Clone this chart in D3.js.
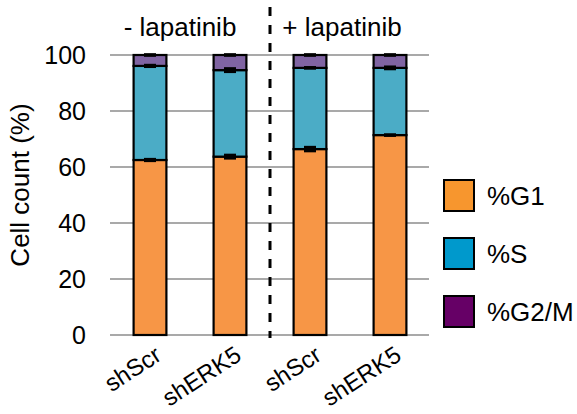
<!DOCTYPE html>
<html><head><meta charset="utf-8">
<script src="https://cdn.jsdelivr.net/npm/d3@7"></script>
<style>body{margin:0;background:#fff}text{font-family:"Liberation Sans",Arial,sans-serif;fill:#000}</style>
</head><body><svg id="c" width="577" height="414"></svg>
<script>
const categories = ["shScr","shERK5","shScr","shERK5"];
const groupLabels = ["- lapatinib","+ lapatinib"];
const seriesNames = ["%G1","%S","%G2/M"];
const g1 = [62.5, 63.7, 66.4, 71.4];
const s  = [33.6, 30.9, 29.0, 24.0];
const g2m = [3.9, 5.4, 4.6, 4.6];
const errG1 = [0.4, 0.7, 0.8, 0.3];
const errS = [0.4, 0.7, 0.3, 0.5];
const errTop = [0.3, 0.3, 0.3, 0.3];
const yTicks = [0,20,40,60,80,100];
const barColors = ["#f79646","#4bacc6","#8064a2"];
const legendColors = ["#f7962e","#0099cc","#660066"];

const svg = d3.select("#c");
const x = d3.scaleBand().domain(d3.range(categories.length)).range([110,430]).paddingInner(0.59).paddingOuter(0.295);
const y = d3.scaleLinear().domain([0,100]).range([335,55]);

// grid
svg.append("g").selectAll("line").data(yTicks).join("line")
  .attr("x1",110).attr("x2",429).attr("y1",d=>y(d)).attr("y2",d=>y(d))
  .attr("stroke","#8c8c8c").attr("stroke-width",1.5);
svg.append("g").selectAll("text").data(yTicks).join("text")
  .attr("x",86).attr("y",d=>y(d)+9).attr("text-anchor","end").attr("font-size",25).text(d=>d);

svg.append("text").attr("transform","translate(29,185) rotate(-90)").attr("text-anchor","middle")
  .attr("font-size",26).text("Cell count (%)");

const stacks = categories.map((c,i)=>{
  const vals=[g1[i],s[i],g2m[i]]; let acc=0;
  return vals.map((v,k)=>{const o={i,k,y0:acc,y1:acc+v}; acc+=v; return o;});
}).flat();

svg.append("g").selectAll("rect").data(stacks).join("rect")
  .attr("x",d=>x(d.i)).attr("width",x.bandwidth())
  .attr("y",d=>y(d.y1)).attr("height",d=>y(d.y0)-y(d.y1))
  .attr("fill",d=>barColors[d.k]).attr("stroke","#000").attr("stroke-width",2.2);

// error bars
const errs=[];
categories.forEach((c,i)=>{
  errs.push({i,v:g1[i],e:errG1[i]});
  errs.push({i,v:g1[i]+s[i],e:errS[i]});
  errs.push({i,v:g1[i]+s[i]+g2m[i],e:errTop[i]});
});
const eg = svg.append("g");
errs.forEach(d=>{
  const cx = x(d.i)+x.bandwidth()/2;
  eg.append("rect").attr("x",cx-6).attr("width",12)
    .attr("y",y(d.v+d.e)-1).attr("height",Math.max(2,y(d.v-d.e)-y(d.v+d.e)+2)).attr("fill","#000");
});

// divider
svg.append("line").attr("x1",270).attr("x2",270).attr("y1",7).attr("y2",338)
  .attr("stroke","#000").attr("stroke-width",3).attr("stroke-dasharray","9,9");

// group labels
groupLabels.forEach((g,j)=>{
  const cx = (x(j*2)+x(j*2+1)+x.bandwidth())/2;
  svg.append("text").attr("x",cx+(j?-8:-10)).attr("y",36).attr("text-anchor","middle").attr("font-size",26).text(g);
});

// x labels
categories.forEach((c,i)=>{
  const cx = x(i)+x.bandwidth()/2;
  svg.append("text").attr("transform",`translate(${cx+13},${359}) rotate(-33)`)
    .attr("text-anchor","end").attr("font-size",24).text(c);
});

// legend
seriesNames.forEach((n,k)=>{
  const ly = 180 + k*58;
  svg.append("rect").attr("x",444).attr("y",ly).attr("width",30).attr("height",31)
    .attr("fill",legendColors[k]).attr("stroke","#000").attr("stroke-width",2);
  svg.append("text").attr("x",487).attr("y",ly+25).attr("font-size",26).text(n);
});
</script></body></html>
